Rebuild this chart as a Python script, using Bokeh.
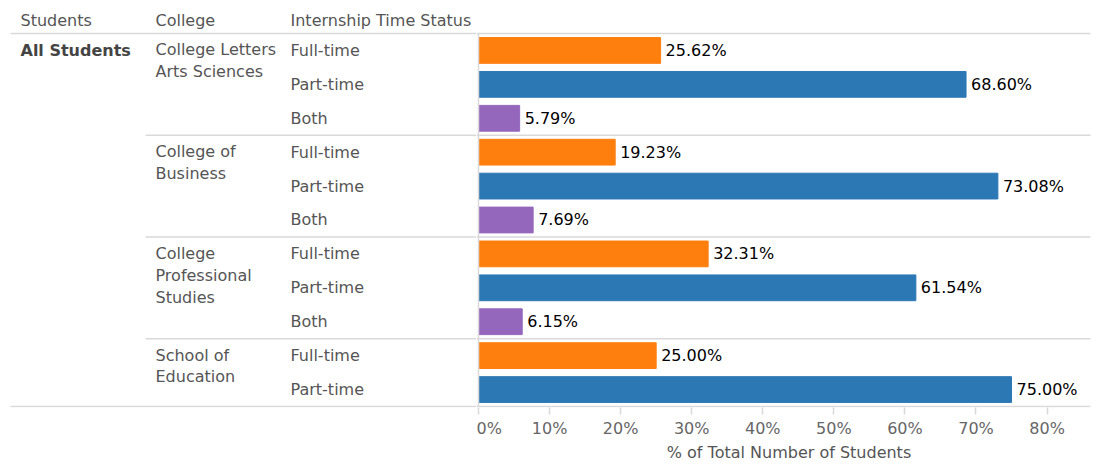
from bokeh.plotting import figure
from bokeh.models import Range1d, ColumnDataSource, FixedTicker, PrintfTickFormatter
from bokeh.layouts import row
from bokeh.embed import file_html
from bokeh.resources import INLINE
from bokeh.core.properties import value

# ---------------- data ----------------
headers = ["Students", "College", "Internship Time Status"]
student_group = "All Students"
colleges = ["College Letters\nArts Sciences", "College of\nBusiness",
            "College\nProfessional\nStudies", "School of\nEducation"]
statuses = [["Full-time", "Part-time", "Both"],
            ["Full-time", "Part-time", "Both"],
            ["Full-time", "Part-time", "Both"],
            ["Full-time", "Part-time"]]
pct = [[25.62, 68.60, 5.79],
       [19.23, 73.08, 7.69],
       [32.31, 61.54, 6.15],
       [25.00, 75.00]]
status_colors = {"Full-time": "#FF7F0E", "Part-time": "#2C78B5", "Both": "#9467BD"}
x_ticks = [0, 10, 20, 30, 40, 50, 60, 70, 80]
x_title = "% of Total Number of Students"

# ---------------- layout constants ----------------
FONT = "DejaVu Sans"
FS = "16px"
GRID = "#d9d9d9"
TXT = "#555555"
PX_PER_PCT = 7.107
LEFT_W = 476
RIGHT_W = 625
ROW_PX = 33.91
BOTTOM = 56

# build rows
ys, st, vals, cols, col_y, sep_y = [], [], [], [], [], []
r = 0
for ci, c in enumerate(colleges):
    col_y.append(r)
    for s, v in zip(statuses[ci], pct[ci]):
        ys.append(r); st.append(s); vals.append(v); cols.append(status_colors[s])
        r += 1
    sep_y.append(r - 0.5)
n_rows = r
top_y = -0.5 - 33 / ROW_PX
bot_y = n_rows - 0.5 + 1 / ROW_PX
FRAME_H = int(round((bot_y - top_y) * ROW_PX))
y_range = Range1d(start=bot_y, end=top_y)
header_y = top_y + 20 / ROW_PX

bars = ColumnDataSource(dict(y=ys, v=vals, c=cols, s=st,
                             lab=["%.2f%%" % v for v in vals]))

# ---------------- left table ----------------
left = figure(width=LEFT_W, frame_width=LEFT_W, frame_height=FRAME_H,
              x_range=Range1d(0, LEFT_W), y_range=y_range,
              output_backend="svg", toolbar_location=None,
              min_border_left=0, min_border_right=0, min_border_top=0,
              min_border_bottom=BOTTOM)
left.axis.visible = False
left.grid.visible = False
left.outline_line_color = None

col_x = [20, 155, 290]
left.text(x=col_x, y=[header_y] * 3, text=headers, text_font=value(FONT),
          text_font_size=FS, text_color=TXT, text_baseline="middle")
left.text(x=[col_x[0]], y=[0], text=[student_group], text_font=value(FONT),
          text_font_size=FS, text_color="#444444", text_font_style="bold",
          text_baseline="middle")
left.text(x=[col_x[1]] * len(colleges), y=col_y, text=colleges, text_font=value(FONT),
          text_font_size=FS, text_color=TXT, text_baseline="top",
          text_line_height=1.15, y_offset=-10)
left.text(x=col_x[2], y="y", text="s", source=bars, text_font=value(FONT),
          text_font_size=FS, text_color=TXT, text_baseline="middle")
left.segment(x0=[10, 10], x1=[LEFT_W, LEFT_W], y0=[-0.5, n_rows - 0.5],
             y1=[-0.5, n_rows - 0.5], line_color=GRID, line_width=1.5)
left.segment(x0=[145] * (len(sep_y) - 1), x1=[LEFT_W] * (len(sep_y) - 1),
             y0=sep_y[:-1], y1=sep_y[:-1], line_color=GRID, line_width=1.5)

# ---------------- right bars ----------------
x0 = -2 / PX_PER_PCT
x1 = x0 + RIGHT_W / PX_PER_PCT
x_line_end = x0 + (1090 - LEFT_W) / PX_PER_PCT
right = figure(width=RIGHT_W, frame_width=RIGHT_W, frame_height=FRAME_H,
               x_range=Range1d(x0, x1), y_range=y_range,
               output_backend="svg", toolbar_location=None,
               min_border_left=0, min_border_right=0, min_border_top=0,
               min_border_bottom=BOTTOM)
right.grid.visible = False
right.yaxis.visible = False
right.outline_line_color = None

right.hbar(y="y", right="v", left=0, height=0.76, color="c", source=bars)
right.text(x="v", y="y", text="lab", source=bars, x_offset=5,
           text_font=value(FONT), text_font_size=FS, text_color="#000000",
           text_baseline="middle")
right.segment(x0=[x0] * 2, x1=[x_line_end] * 2, y0=[-0.5, n_rows - 0.5],
              y1=[-0.5, n_rows - 0.5], line_color=GRID, line_width=1.5)
right.segment(x0=[x0] * (len(sep_y) - 1), x1=[x_line_end] * (len(sep_y) - 1),
              y0=sep_y[:-1], y1=sep_y[:-1], line_color=GRID, line_width=1.5)
right.segment(x0=[0], x1=[0], y0=[-0.5], y1=[n_rows - 0.5], line_color=GRID,
              line_width=1.5)

xa = right.xaxis[0]
xa.ticker = FixedTicker(ticks=x_ticks)
xa.formatter = PrintfTickFormatter(format="%d%%")
xa.axis_line_color = None
xa.major_tick_line_color = GRID
xa.major_tick_line_width = 1.5
xa.major_tick_in = 0
xa.major_tick_out = 7
xa.minor_tick_line_color = None
xa.major_label_standoff = 4
xa.major_label_text_font = FONT
xa.major_label_text_font_size = FS
xa.major_label_text_color = "#666666"
xa.axis_label = x_title
xa.axis_label_standoff = 2
xa.axis_label_text_font = FONT
xa.axis_label_text_font_size = FS
xa.axis_label_text_font_style = "normal"
xa.axis_label_text_color = "#555555"

layout = row(left, right, spacing=0)
open("out.html", "w").write(file_html(layout, INLINE))
